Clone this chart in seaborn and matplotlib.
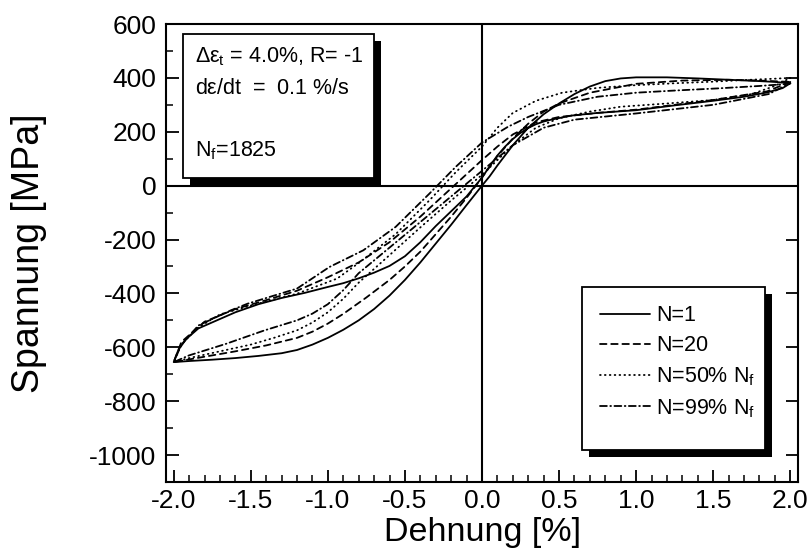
import matplotlib
matplotlib.use("Agg")
import matplotlib.pyplot as plt
import pandas as pd
import seaborn as sns
from matplotlib.patches import Rectangle
from matplotlib.lines import Line2D
from matplotlib.ticker import MultipleLocator, FormatStrFormatter

# ---- hysteresis loops: strain [%] and stress [MPa] ----
# N=1: initial loading 0 -> +2 %, reversal to -2 %, back to 0
n1_load_strain = [0.0, 0.05, 0.1, 0.2, 0.3, 0.4, 0.5, 0.6, 0.7, 0.8, 0.9, 1.0, 1.2, 1.4, 1.6, 1.8, 1.9, 2.0]
n1_load_stress = [0, 35, 75, 150, 215, 265, 305, 340, 368, 388, 398, 402, 402, 398, 393, 388, 385, 380]
n1_unload_strain = [2.0, 1.95, 1.85, 1.7, 1.5, 1.25, 1.0, 0.75, 0.58, 0.45, 0.4, 0.35, 0.3, 0.25,
                    0.2, 0.15, 0.1, 0.05, 0.0, -0.1, -0.2, -0.3, -0.4, -0.5, -0.6, -0.7, -0.8,
                    -0.9, -1.0, -1.15, -1.3, -1.45, -1.6, -1.72, -1.84, -1.92, -1.97, -2.0]
n1_unload_stress = [380, 362, 346, 330, 315, 298, 280, 270, 260, 245, 238, 228, 214, 196,
                    173, 145, 112, 72, 30, -40, -95, -150, -210, -262, -298, -323, -344,
                    -362, -376, -398, -417, -440, -470, -500, -530, -570, -610, -655]
n1_reload_strain = [-2.0, -1.9, -1.75, -1.6, -1.45, -1.3, -1.2, -1.1, -1.0, -0.9, -0.8, -0.7,
                    -0.6, -0.5, -0.4, -0.3, -0.2, -0.1, 0.0]
n1_reload_stress = [-655, -651, -646, -640, -632, -622, -610, -590, -565, -535, -500, -458,
                    -408, -350, -285, -215, -145, -72, 0]

# N=20
n20_upper_strain = [2.0, 1.85, 1.5, 1.0, 0.75, 0.5, 0.35, 0.2, 0.1, 0.0, -0.2, -0.4, -0.6, -0.8,
                    -1.0, -1.2, -1.4, -1.6, -1.8, -1.95, -2.0]
n20_upper_stress = [385, 350, 318, 282, 270, 255, 235, 190, 145, 95, -10, -115, -210, -285,
                    -340, -390, -425, -458, -505, -580, -655]
n20_lower_strain = [-2.0, -1.8, -1.6, -1.4, -1.2, -1.1, -1.0, -0.9, -0.75, -0.6, -0.5, -0.4,
                    -0.3, -0.2, -0.1, 0.0, 0.1, 0.2, 0.3, 0.4, 0.5, 0.7, 1.0, 1.3, 1.6, 1.8, 2.0]
n20_lower_stress = [-655, -635, -615, -593, -565, -542, -512, -476, -415, -350, -300, -245,
                    -180, -115, -45, 30, 110, 175, 230, 275, 305, 345, 378, 390, 393, 390, 385]

# N=50% Nf
n50_upper_strain = [2.0, 1.9, 1.7, 1.5, 1.25, 1.0, 0.75, 0.52, 0.35, 0.2, 0.1, 0.0, -0.17, -0.34,
                    -0.56, -0.79, -0.94, -1.2, -1.5, -1.7, -1.85, -1.95, -2.0]
n50_upper_stress = [400, 397, 392, 386, 380, 373, 363, 345, 315, 270, 215, 145, 50, -54,
                    -180, -283, -345, -401, -445, -478, -530, -590, -655]
n50_lower_strain = [-2.0, -1.9, -1.7, -1.5, -1.35, -1.2, -1.1, -1.0, -0.9, -0.8, -0.6, -0.4,
                    -0.2, 0.0, 0.2, 0.35, 0.5, 0.7, 0.9, 1.2, 1.5, 1.75, 1.9, 2.0]
n50_lower_stress = [-655, -640, -615, -590, -565, -537, -508, -470, -420, -360, -258, -155,
                    -55, 40, 150, 215, 250, 275, 293, 305, 318, 340, 370, 400]

# N=99% Nf
n99_upper_strain = [2.0, 1.97, 1.8, 1.53, 1.25, 1.0, 0.75, 0.5, 0.3, 0.17, 0.0, -0.17, -0.34,
                    -0.56, -0.77, -0.99, -1.2, -1.52, -1.63, -1.84, -1.95, -2.0]
n99_upper_stress = [380, 377, 370, 361, 353, 345, 330, 300, 255, 219, 160, 70, -29,
                    -153, -240, -302, -382, -438, -463, -519, -590, -655]
n99_lower_strain = [-2.0, -1.9, -1.66, -1.41, -1.2, -1.1, -1.0, -0.9, -0.8, -0.6, -0.4, -0.2,
                    0.0, 0.2, 0.4, 0.6, 1.0, 1.5, 1.86, 2.0]
n99_lower_stress = [-655, -630, -587, -537, -500, -475, -440, -388, -325, -230, -135, -40,
                    55, 150, 215, 245, 268, 300, 340, 380]

cycle_labels = ["N=1", "N=20", r"N=50% N$_{\rm f}$", r"N=99% N$_{\rm f}$"]
box_lines = [r"$\Delta\varepsilon_{\rm t}$ = 4.0%, R= -1", r"d$\varepsilon$/dt  =  0.1 %/s", "",
             r"N$_{\rm f}$=1825"]


def loop_frame(label, branches):
    xs, ys = [], []
    for bx, by in branches:
        xs += list(bx)
        ys += list(by)
    return pd.DataFrame({"strain": xs, "stress": ys, "cycle": label, "step": range(len(xs))})


df = pd.concat([
    loop_frame(cycle_labels[0], [(n1_load_strain, n1_load_stress),
                                 (n1_unload_strain, n1_unload_stress),
                                 (n1_reload_strain, n1_reload_stress)]),
    loop_frame(cycle_labels[1], [(n20_upper_strain, n20_upper_stress),
                                 (n20_lower_strain, n20_lower_stress)]),
    loop_frame(cycle_labels[2], [(n50_upper_strain, n50_upper_stress),
                                 (n50_lower_strain, n50_lower_stress)]),
    loop_frame(cycle_labels[3], [(n99_upper_strain, n99_upper_stress),
                                 (n99_lower_strain, n99_lower_stress)]),
], ignore_index=True)

sns.set_style("ticks")
plt.rcParams.update({
    "font.family": ["Liberation Sans", "DejaVu Sans"],
    "mathtext.fontset": "custom",
    "mathtext.rm": "Liberation Sans",
    "mathtext.it": "Liberation Sans",
    "mathtext.bf": "Liberation Sans:bold",
    "axes.unicode_minus": False,
    "lines.dash_capstyle": "round",
    "text.color": "black",
    "axes.labelcolor": "black",
    "xtick.color": "black",
    "ytick.color": "black",
    "legend.labelcolor": "black",
})

W, H = 809, 559
fig = plt.figure(figsize=(W / 100, H / 100), dpi=100)
ax_l, ax_r, ax_t, ax_b = 166, 798, 24, 482
ax = fig.add_axes([ax_l / W, 1 - ax_b / H, (ax_r - ax_l) / W, (ax_b - ax_t) / H])
axw, axh = ax_r - ax_l, ax_b - ax_t

LW = 1.3
dash_map = {
    cycle_labels[0]: "",
    cycle_labels[1]: (3.6, 2.6),
    cycle_labels[2]: (0.4, 2.3),
    cycle_labels[3]: (3.8, 1.9, 0.4, 1.9),
}

ax.axhline(0, color="black", lw=1.5, zorder=1)
ax.axvline(0, color="black", lw=1.5, zorder=1)

sns.lineplot(data=df, x="strain", y="stress", style="cycle", dashes=dash_map,
             sort=False, estimator=None, units="cycle", color="black", lw=LW,
             legend=False, ax=ax, zorder=2)

ax.set_xlim(-2.05, 2.05)
ax.set_ylim(-1100, 600)
ax.xaxis.set_major_locator(MultipleLocator(0.5))
ax.xaxis.set_minor_locator(MultipleLocator(0.1))
ax.yaxis.set_major_locator(MultipleLocator(200))
ax.yaxis.set_minor_locator(MultipleLocator(100))
ax.xaxis.set_major_formatter(FormatStrFormatter("%.1f"))
ax.yaxis.set_major_formatter(FormatStrFormatter("%d"))

ax.tick_params(which="both", direction="in", top=False, right=True, labelright=False,
               color="black", labelcolor="black")
ax.tick_params(axis="y", which="minor", right=False)
ax.tick_params(which="major", length=9, width=1.3, labelsize=19)
ax.tick_params(which="minor", length=5, width=1.1)
ax.tick_params(axis="y", which="major", pad=7)
ax.tick_params(axis="x", which="major", pad=5)
for sp in ax.spines.values():
    sp.set_linewidth(1.5)
    sp.set_color("black")

ax.set_xlabel("Dehnung [%]", fontsize=24.5, color="black")
ax.set_ylabel("Spannung [MPa]", fontsize=27, color="black")
ax.xaxis.set_label_coords(0.5, (ax_b - 517) / axh)
ax.yaxis.set_label_coords((47 - ax_l) / axw, 0.5)


def framed_box(x0, y0, x1, y1, shadow=7):
    """White box with a black drop shadow, given in figure pixels."""
    fx0, fx1 = (x0 - ax_l) / axw, (x1 - ax_l) / axw
    fy0, fy1 = (ax_b - y1) / axh, (ax_b - y0) / axh
    dx, dy = shadow / axw, shadow / axh
    ax.add_artist(Rectangle((fx0 + dx, fy0 - dy), fx1 - fx0, fy1 - fy0, transform=ax.transAxes,
                            facecolor="black", edgecolor="none", zorder=4.8, clip_on=False))
    ax.add_artist(Rectangle((fx0, fy0), fx1 - fx0, fy1 - fy0, transform=ax.transAxes,
                            facecolor="white", edgecolor="black", lw=1.3, zorder=4.9,
                            clip_on=False))


# parameter box
framed_box(183, 34, 374, 178)
for txt, base in zip(box_lines, [62, 94, 125, 156]):
    if txt:
        ax.text((195 - ax_l) / axw, (ax_b - base) / axh, txt, transform=ax.transAxes,
                fontsize=15.5, va="baseline", ha="left", color="black", zorder=6)

# legend
framed_box(582, 287, 765, 450)
handles = [Line2D([], [], color="black", lw=LW, dashes=dash_map[c]) if dash_map[c]
           else Line2D([], [], color="black", lw=LW) for c in cycle_labels]
ax.legend(handles, cycle_labels, loc="upper left",
          bbox_to_anchor=((582 - ax_l) / axw, (ax_b - 287) / axh),
          frameon=False, fontsize=15.5, handlelength=2.3, handletextpad=0.3,
          labelspacing=0.42, borderpad=0.85, borderaxespad=0,
          labelcolor="black").set_zorder(6)

fig.savefig("out.png", dpi=100, facecolor="white")
